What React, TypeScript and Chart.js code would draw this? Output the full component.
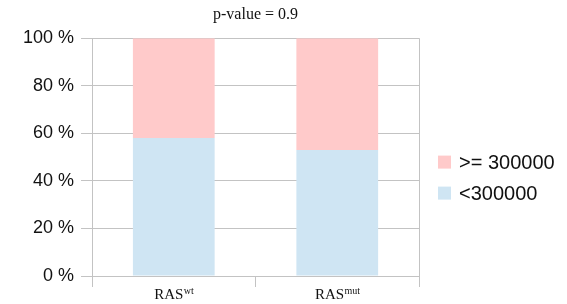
import React, { useEffect, useRef } from "react";
import { Chart, registerables } from "chart.js";

Chart.register(...registerables);

const categoryBase = ["RAS", "RAS"];
const categorySup = ["wt", "mut"];
const belowValues = [58, 53];
const aboveValues = [42, 47];
const seriesNames = ["<300000", ">= 300000"];
const yTicks = [0, 20, 40, 60, 80, 100];
const titleText = "p-value = 0.9";

const BLUE = "#cfe5f3";
const PINK = "#ffcaca";
const GRID = "#c3c3c3";
const SERIF = "'Liberation Serif', serif";
const SANS = "'Liberation Sans', Arial, sans-serif";

const extrasPlugin = {
  id: "extras",
  afterDraw(chart: any) {
    const ctx = chart.ctx;
    const xScale = chart.scales.x;
    const area = chart.chartArea;
    ctx.save();
    // category labels with superscripts
    ctx.fillStyle = "#111";
    ctx.textBaseline = "alphabetic";
    categoryBase.forEach((base, i) => {
      const sup = categorySup[i];
      ctx.font = `15px ${SERIF}`;
      const wb = ctx.measureText(base).width;
      ctx.font = `10px ${SERIF}`;
      const ws = ctx.measureText(sup).width;
      const cx = xScale.getPixelForValue(i);
      const left = cx - (wb + ws) / 2;
      const baseY = area.bottom + 23;
      ctx.font = `15px ${SERIF}`;
      ctx.textAlign = "left";
      ctx.fillText(base, left, baseY);
      ctx.font = `10px ${SERIF}`;
      ctx.fillText(sup, left + wb + 0.5, baseY - 5);
    });
    // legend (reverse dataset order)
    const items = chart.data.datasets.slice().reverse();
    const boxX = area.right + 19;
    const midY = (area.top + area.bottom) / 2;
    const step = 31;
    const startY = midY + 5;
    ctx.font = `20px ${SANS}`;
    ctx.textBaseline = "middle";
    ctx.textAlign = "left";
    items.forEach((ds: any, i: number) => {
      const cy = startY + i * step;
      ctx.fillStyle = ds.backgroundColor;
      ctx.fillRect(boxX, cy - 6.5, 13, 13);
      ctx.fillStyle = "#111";
      ctx.fillText(ds.label, boxX + 21, cy + 1);
    });
    ctx.restore();
  },
};

export default function App() {
  const ref = useRef<HTMLCanvasElement | null>(null);
  useEffect(() => {
    if (!ref.current) return;
    const chart = new Chart(ref.current, {
      type: "bar",
      data: {
        labels: categoryBase.map((b, i) => b + categorySup[i]),
        datasets: [
          {
            label: seriesNames[0],
            data: belowValues,
            backgroundColor: BLUE,
            borderWidth: 0,
            barPercentage: 0.5,
            categoryPercentage: 1,
          },
          {
            label: seriesNames[1],
            data: aboveValues,
            backgroundColor: PINK,
            borderWidth: 0,
            barPercentage: 0.5,
            categoryPercentage: 1,
          },
        ],
      },
      options: {
        animation: false,
        responsive: true,
        maintainAspectRatio: false,
        layout: { padding: { left: 16, right: 148, top: 0, bottom: 17 } },
        plugins: {
          title: {
            display: true,
            text: titleText,
            fullSize: false,
            color: "#111",
            font: { family: SERIF, size: 16, weight: "normal" },
            padding: { top: 5, bottom: 14 },
          },
          legend: { display: false },
          tooltip: { enabled: false },
        },
        scales: {
          x: {
            stacked: true,
            offset: true,
            grid: {
              offset: true,
              drawOnChartArea: true,
              color: (c: any) => (c.index === 1 ? "rgba(0,0,0,0)" : GRID),
              tickColor: GRID,
              tickLength: 11,
            },
            border: { display: false },
            ticks: { display: false },
          },
          y: {
            stacked: true,
            min: 0,
            max: 100,
            afterBuildTicks: (s: any) => {
              s.ticks = yTicks.map((v) => ({ value: v }));
            },
            grid: { color: GRID, tickColor: GRID, tickLength: 11 },
            border: { color: GRID },
            ticks: {
              padding: 7,
              color: "#111",
              font: { family: SANS, size: 18 },
              callback: (v: any) => `${v} %`,
            },
          },
        },
      },
      plugins: [extrasPlugin],
    });
    return () => chart.destroy();
  }, []);
  return (
    <div style={{ position: "fixed", left: 0, top: 0, width: 567, height: 304, background: "#fff" }}>
      <canvas ref={ref} />
    </div>
  );
}
